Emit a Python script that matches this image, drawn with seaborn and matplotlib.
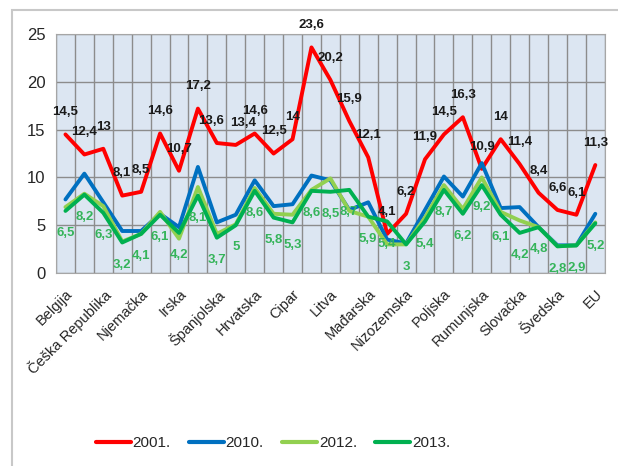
import matplotlib
matplotlib.use("Agg")
import matplotlib.pyplot as plt
from matplotlib import font_manager
from matplotlib.patches import Rectangle
from matplotlib.lines import Line2D
import seaborn as sns
import pandas as pd
import numpy as np

# countries (EU protocol order) + EU average
countries = ["Belgija", "Bugarska", "Češka Republika", "Danska", "Njemačka", "Estonija",
             "Irska", "Grčka", "Španjolska", "Francuska", "Hrvatska", "Italija", "Cipar",
             "Latvija", "Litva", "Luksemburg", "Mađarska", "Malta", "Nizozemska", "Austrija",
             "Poljska", "Portugal", "Rumunjska", "Slovenija", "Slovačka", "Finska", "Švedska",
             "Ujedinjena Kraljevina", "EU"]

y2001 = [14.5, 12.4, 13, 8.1, 8.5, 14.6, 10.7, 17.2, 13.6, 13.4, 14.6, 12.5, 14, 23.6, 20.2,
         15.9, 12.1, 4.1, 6.2, 11.9, 14.5, 16.3, 10.9, 14, 11.4, 8.4, 6.6, 6.1, 11.3]
y2010 = [7.7, 10.4, 7.4, 4.4, 4.4, 6.2, 4.8, 11.1, 5.3, 6.1, 9.7, 7.0, 7.2, 10.2, 9.7,
         6.6, 7.4, 3.5, 3.1, 6.6, 10.1, 8.0, 11.5, 6.8, 6.9, 4.8, 2.9, 2.9, 6.2]
y2012 = [6.9, 8.3, 7.0, 3.3, 4.1, 6.4, 3.6, 9.0, 4.1, 5.1, 8.9, 6.2, 6.1, 8.7, 9.9,
         6.5, 5.9, 3.0, 3.0, 5.8, 9.2, 6.7, 10.0, 6.4, 5.5, 4.8, 2.8, 2.9, 5.3]
y2013 = [6.5, 8.2, 6.3, 3.2, 4.1, 6.1, 4.2, 8.1, 3.7, 5, 8.6, 5.8, 5.3, 8.6, 8.5,
         8.7, 5.9, 5.4, 3, 5.4, 8.7, 6.2, 9.2, 6.1, 4.2, 4.8, 2.8, 2.9, 5.2]
years = ["2001.", "2010.", "2012.", "2013."]

colors = {"2001.": "#ff0000", "2010.": "#0070c0", "2012.": "#92d050", "2013.": "#00b050"}
label_green = "#35b45a"

sns.set_style("white")
installed = {f.name for f in font_manager.fontManager.ttflist}
fam = "Liberation Sans Narrow" if "Liberation Sans Narrow" in installed else "Liberation Sans"
plt.rcParams["font.family"] = [fam, "DejaVu Sans"]

df = pd.DataFrame({"idx": np.arange(len(countries)),
                   "2001.": y2001, "2010.": y2010, "2012.": y2012, "2013.": y2013})
long = df.melt(id_vars="idx", var_name="year", value_name="val")

fig = plt.figure(figsize=(6.18, 4.66), dpi=100)
ax = fig.add_axes([0.0906, 0.414, 0.888, 0.513])
ax.set_facecolor("#dce6f2")

sns.lineplot(data=long, x="idx", y="val", hue="year", hue_order=years, palette=colors,
             linewidth=2.8, ax=ax, legend=False, zorder=3)

ax.set_xlim(-0.5, len(countries) - 0.5)
ax.set_ylim(0, 25)
ax.set_yticks([0, 5, 10, 15, 20, 25])
ax.set_xticks(np.arange(0, len(countries), 2))
ax.set_xticklabels(countries[::2], rotation=45, ha="right", rotation_mode="anchor", fontsize=10.5)
ax.set_xticks(np.arange(-0.5, len(countries), 1), minor=True)
ax.tick_params(axis="x", which="major", length=0, pad=10)
ax.tick_params(axis="x", which="minor", length=4, color="#a6a6a6")
ax.tick_params(axis="y", length=4, color="#a6a6a6", labelsize=12)
ax.grid(True, axis="y", color="#8c8c8c", lw=1)
ax.grid(True, axis="x", which="minor", color="#8c8c8c", lw=1)
ax.set_axisbelow(True)
for s in ax.spines.values():
    s.set_color("#a6a6a6")
ax.set_xlabel("")
ax.set_ylabel("")

def fmt(v):
    return ("%g" % v).replace(".", ",")

# small horizontal nudges where neighbouring labels collide
dx_2001 = {8: -4, 9: 5}
for i, v in enumerate(y2001):
    ax.annotate(fmt(v), (i, v), xytext=(dx_2001.get(i, 0), 16), textcoords="offset points",
                ha="center", va="center", fontsize=9.5, fontweight="bold", color="#1a1a1a", zorder=5)
for i, v in enumerate(y2013):
    ax.annotate(fmt(v), (i, v), xytext=(0, -16), textcoords="offset points",
                ha="center", va="center", fontsize=9.5, fontweight="bold", color=label_green, zorder=5)

handles = [Line2D([], [], color=colors[y], lw=3) for y in years]
fig.legend(handles, years, loc="center", bbox_to_anchor=(273 / 618, 0.049), ncol=4,
           frameon=False, fontsize=11, handlelength=2.3, handletextpad=0.1, columnspacing=1.2)

fig.patches.append(Rectangle((12 / 618, -0.1), 1.2, (466 - 10) / 466 + 0.1, transform=fig.transFigure,
                             fill=False, edgecolor="#c8c8c8", lw=1.5))

fig.savefig("out.png", dpi=100)
